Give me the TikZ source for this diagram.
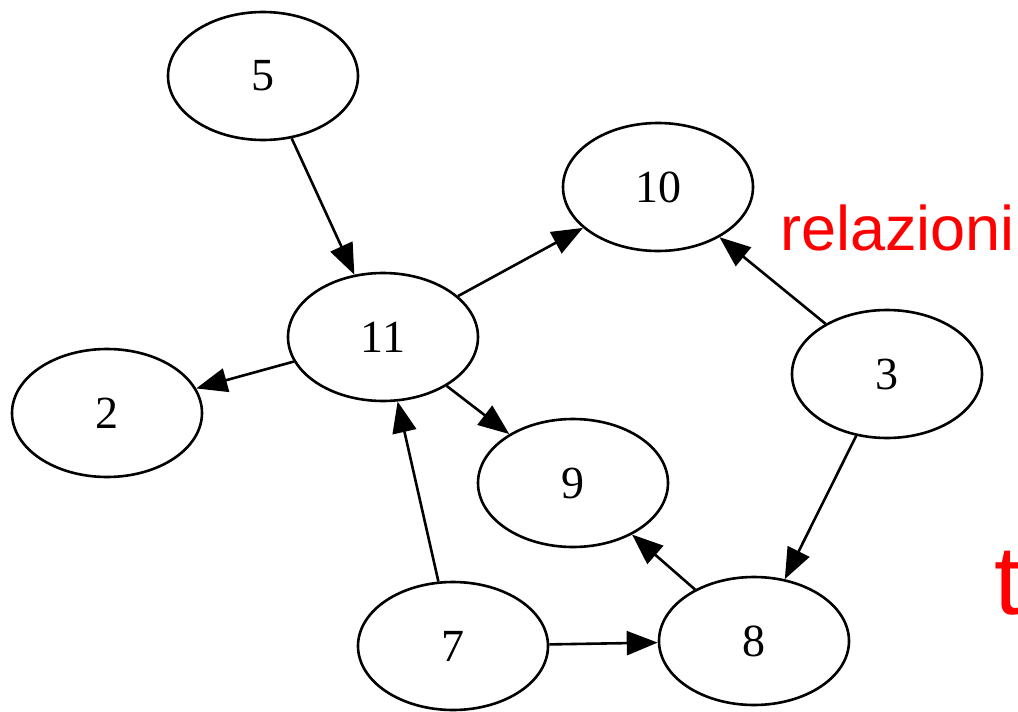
\documentclass[tikz,border=0pt]{standalone}
\usepackage{fontspec}
\setmainfont{Liberation Serif}
\newfontfamily\redfont{Liberation Sans}
\usetikzlibrary{shapes.geometric,arrows.meta}
\tikzset{
  vertex/.style={ellipse, draw=black, line width=2.6pt, minimum width=190pt, minimum height=128pt, inner sep=0pt, font=\fontsize{46}{50}\selectfont},
  link/.style={line width=2.6pt, -{Triangle[length=31pt,width=24pt]}},
  redlabel/.style={text=red, inner sep=0pt, anchor=base west}
}
\begin{document}
\begin{tikzpicture}[x=1pt,y=-1pt]
\clip (0,0) rectangle (1018,712);
\fill[white] (0,0) rectangle (1018,712);
\node[vertex] (n5) at (263,76) {5};
\node[vertex] (n10) at (658,187) {10};
\node[vertex] (n11) at (383,337) {11};
\node[vertex] (n2) at (107,413) {2};
\node[vertex] (n3) at (887,374) {3};
\node[vertex] (n9) at (573,483) {9};
\node[vertex] (n7) at (453,646) {7};
\node[vertex] (n8) at (754,641) {8};
\draw[link] (n5) -- (n11);
\draw[link] (n11) -- (n10);
\draw[link] (n3) -- (n10);
\draw[link] (n11) -- (n2);
\draw[link] (n11) -- (n9);
\draw[link] (n7) -- (n11);
\draw[link] (n3) -- (n8);
\draw[link] (n8) -- (n9);
\draw[link] (n7) -- (n8);
\node[redlabel, font=\redfont\fontsize{63}{66}\selectfont] (rel) at (780,250) {relazioni};
\node[redlabel, font=\redfont\fontsize{98}{100}\selectfont] (tt) at (994,614) {t};
\end{tikzpicture}
\end{document}
